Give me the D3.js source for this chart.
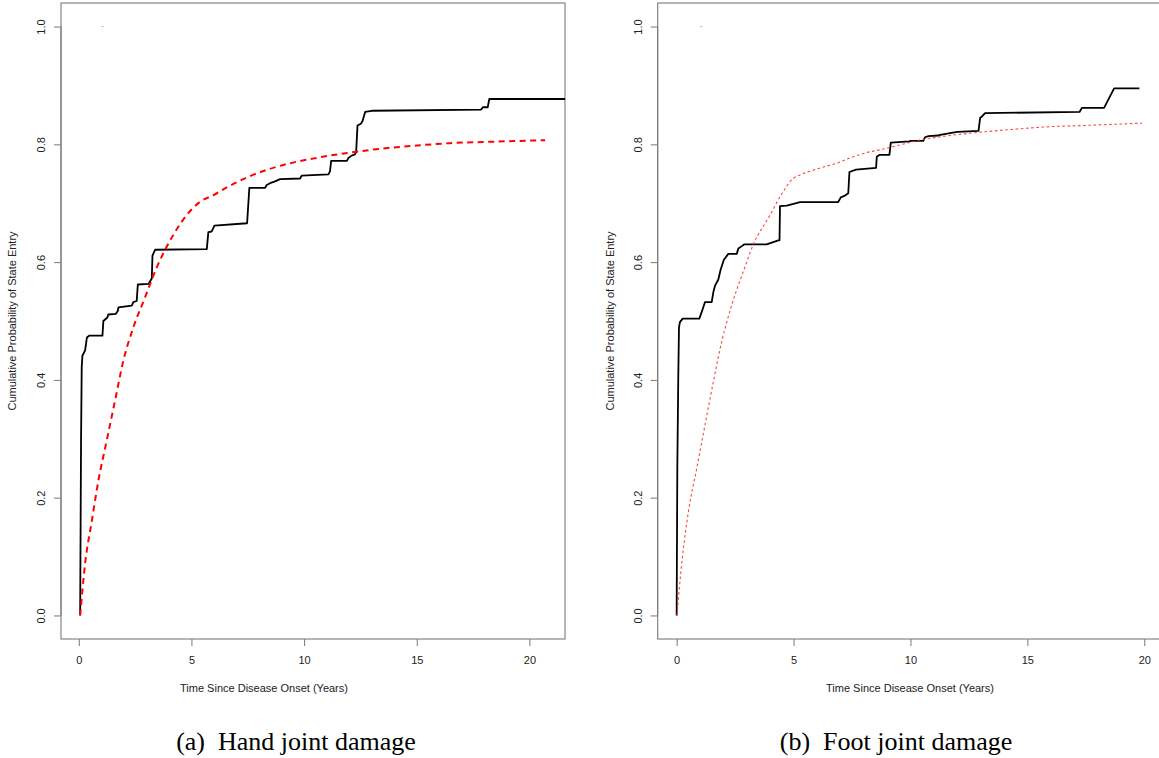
<!DOCTYPE html>
<html>
<head>
<meta charset="utf-8">
<script src="https://cdn.jsdelivr.net/npm/d3@7/dist/d3.min.js"></script>
<style>
  html, body { margin: 0; padding: 0; background: #fff; }
  svg { display: block; }
</style>
</head>
<body>
<svg id="chart" width="1159" height="758"></svg>
<script>
// ---------------- DATA ----------------
const xTickValues = [0, 5, 10, 15, 20];
const xTickLabels = ["0", "5", "10", "15", "20"];
const yTickValues = [0, 0.2, 0.4, 0.6, 0.8, 1.0];
const yTickLabels = ["0.0", "0.2", "0.4", "0.6", "0.8", "1.0"];

const xAxisTitle = "Time Since Disease Onset (Years)";
const yAxisTitle = "Cumulative Probability of State Entry";
const captions = ["(a)  Hand joint damage", "(b)  Foot joint damage"];

// Hand joint damage: empirical (black step) curve [time, probability]
const handObserved = [
  [0.06, 0.000], [0.10, 0.297], [0.13, 0.422], [0.16, 0.441], [0.28, 0.450],
  [0.36, 0.472], [0.46, 0.475], [1.05, 0.475], [1.09, 0.500], [1.27, 0.506],
  [1.31, 0.511], [1.64, 0.512], [1.73, 0.517], [1.76, 0.523], [2.35, 0.526],
  [2.42, 0.532], [2.57, 0.534], [2.62, 0.562], [3.09, 0.563], [3.24, 0.572],
  [3.27, 0.611], [3.39, 0.621], [5.68, 0.622], [5.75, 0.651], [5.90, 0.652],
  [6.02, 0.662], [7.47, 0.666], [7.57, 0.726], [8.27, 0.726], [8.34, 0.731],
  [8.49, 0.734], [8.71, 0.737], [8.93, 0.741], [9.82, 0.742], [9.90, 0.747],
  [11.08, 0.749], [11.15, 0.754], [11.20, 0.772], [11.90, 0.772], [11.97, 0.777],
  [12.12, 0.781], [12.26, 0.783], [12.31, 0.787], [12.37, 0.832], [12.52, 0.835],
  [12.59, 0.839], [12.71, 0.855], [13.00, 0.857], [17.86, 0.859], [17.93, 0.863],
  [18.15, 0.863], [18.22, 0.877], [21.60, 0.877]
];
// Hand joint damage: model (red dashed) curve
const handModel = [
  [0.06, 0.000], [0.28, 0.088], [0.58, 0.161], [0.87, 0.229], [1.24, 0.297],
  [1.61, 0.365], [1.98, 0.433], [2.42, 0.489], [2.94, 0.540], [3.46, 0.591],
  [4.13, 0.642], [5.02, 0.690], [5.40, 0.703], [6.00, 0.714], [6.30, 0.721],
  [7.60, 0.746], [9.08, 0.765], [10.56, 0.777], [12.04, 0.786], [13.52, 0.793],
  [15.00, 0.798], [16.48, 0.802], [17.96, 0.804], [20.70, 0.807]
];

// Foot joint damage: empirical (black step) curve
const footObserved = [
  [0.00, 0.000], [0.03, 0.255], [0.07, 0.405], [0.10, 0.489], [0.14, 0.498],
  [0.26, 0.504], [0.97, 0.504], [1.07, 0.515], [1.21, 0.532], [1.50, 0.532],
  [1.57, 0.549], [1.64, 0.560], [1.78, 0.570], [1.88, 0.587], [2.02, 0.604],
  [2.21, 0.614], [2.57, 0.614], [2.64, 0.623], [2.82, 0.628], [2.88, 0.630],
  [3.85, 0.630], [4.13, 0.634], [4.35, 0.637], [4.40, 0.637], [4.42, 0.695],
  [4.71, 0.696], [5.28, 0.702], [6.91, 0.702], [7.02, 0.710], [7.20, 0.713],
  [7.34, 0.717], [7.39, 0.753], [7.67, 0.757], [8.53, 0.760], [8.56, 0.779],
  [8.67, 0.782], [9.10, 0.782], [9.16, 0.803], [9.95, 0.805], [10.01, 0.806],
  [10.55, 0.806], [10.62, 0.812], [10.77, 0.814], [11.19, 0.815], [11.27, 0.816],
  [11.69, 0.819], [12.01, 0.821], [12.48, 0.822], [12.91, 0.823], [12.98, 0.845],
  [13.05, 0.847], [13.19, 0.853], [17.23, 0.855], [17.33, 0.862], [18.28, 0.862],
  [18.71, 0.895], [19.79, 0.895]
];
// Foot joint damage: model (red dotted) curve
const footModel = [
  [0.01, 0.000], [0.23, 0.093], [0.51, 0.178], [0.87, 0.252], [1.22, 0.325],
  [1.58, 0.399], [1.94, 0.467], [2.37, 0.529], [2.87, 0.586], [3.29, 0.631],
  [3.94, 0.676], [4.50, 0.716], [4.98, 0.742], [5.28, 0.748], [5.99, 0.758],
  [6.99, 0.770], [7.42, 0.777], [8.13, 0.786], [8.84, 0.792], [9.55, 0.799],
  [10.27, 0.806], [11.69, 0.815], [13.10, 0.821], [14.55, 0.826], [15.97, 0.830],
  [17.40, 0.832], [19.90, 0.836]
];

// tiny stray mark near the top of each panel
const strayMark = [[1.0, 1.0], [1.1, 1.0]];

// ---------------- DRAWING ----------------
const svg = d3.select("#chart");
svg.append("rect").attr("width", 1159).attr("height", 758).attr("fill", "#fff");

const sansFont = "'Liberation Sans', Arial, Helvetica, sans-serif";
const serifFont = "'Liberation Serif', 'Times New Roman', Times, serif";
const axisColor = "#7a7a7a";

const panels = [
  { id: "a", box: [61, 3, 565, 639], xDomain: [-0.79, 21.58],
    observed: handObserved, model: handModel,
    modelStyle: { width: 2, dash: "6,4.5", color: "#ff0000", opacity: 1 },
    yTitleX: 12.3, xTitleX: 264, captionX: 296, caption: captions[0] },
  { id: "b", box: [657.7, 3, 1170, 639], xDomain: [-0.81, 21.1],
    observed: footObserved, model: footModel,
    modelStyle: { width: 1.1, dash: "2.6,2.6", color: "#ff2020", opacity: 0.85 },
    yTitleX: 610, xTitleX: 910, captionX: 896, caption: captions[1] }
];

const yDomain = [-0.04, 1.04];

panels.forEach(p => {
  const [x0, y0, x1, y1] = p.box;
  const x = d3.scaleLinear().domain(p.xDomain).range([x0, x1]);
  const y = d3.scaleLinear().domain(yDomain).range([y1, y0]);
  const g = svg.append("g");

  g.append("clipPath").attr("id", "clip-" + p.id)
    .append("rect").attr("x", x0).attr("y", y0).attr("width", x1 - x0).attr("height", y1 - y0);

  // Y axis
  const yAxis = d3.axisLeft(y).tickValues(yTickValues)
    .tickFormat((d, i) => yTickLabels[i]).tickSize(7).tickPadding(3);
  const ya = g.append("g").attr("transform", `translate(${x0},0)`).call(yAxis);
  ya.select(".domain").remove();
  ya.selectAll(".tick line").attr("stroke", axisColor).attr("stroke-width", 1);
  ya.selectAll(".tick text")
    .attr("transform", "rotate(-90)")
    .attr("x", 0).attr("y", -20).attr("dy", null)
    .attr("dominant-baseline", "central")
    .attr("text-anchor", "middle")
    .attr("fill", "#222")
    .style("font-family", sansFont).style("font-size", "11px");
  g.append("line").attr("x1", x0).attr("x2", x0)
    .attr("y1", y(yTickValues[0])).attr("y2", y(yTickValues[yTickValues.length - 1]))
    .attr("stroke", axisColor);

  // X axis
  const xAxis = d3.axisBottom(x).tickValues(xTickValues)
    .tickFormat((d, i) => xTickLabels[i]).tickSize(7).tickPadding(10.5);
  const xa = g.append("g").attr("transform", `translate(0,${y1})`).call(xAxis);
  xa.select(".domain").remove();
  xa.selectAll(".tick line").attr("stroke", axisColor).attr("stroke-width", 1);
  xa.selectAll(".tick text").attr("fill", "#222")
    .style("font-family", sansFont).style("font-size", "11px");

  // Box
  g.append("rect").attr("x", x0).attr("y", y0)
    .attr("width", x1 - x0).attr("height", y1 - y0)
    .attr("fill", "none").attr("stroke", axisColor).attr("stroke-width", 1.1);

  const line = d3.line().x(d => x(d[0])).y(d => y(d[1]));
  const plot = g.append("g").attr("clip-path", `url(#clip-${p.id})`);

  plot.append("path").datum(strayMark).attr("d", line)
    .attr("fill", "none").attr("stroke", "#bbb").attr("stroke-width", 1);

  plot.append("path").datum(p.observed).attr("d", line)
    .attr("fill", "none").attr("stroke", "#000").attr("stroke-width", 1.8)
    .attr("stroke-linejoin", "round");

  plot.append("path").datum(p.model).attr("d", d3.line().curve(d3.curveMonotoneX).x(d => x(d[0])).y(d => y(d[1])))
    .attr("fill", "none").attr("stroke", p.modelStyle.color)
    .attr("stroke-opacity", p.modelStyle.opacity)
    .attr("stroke-width", p.modelStyle.width)
    .attr("stroke-dasharray", p.modelStyle.dash);

  // Titles
  g.append("text").attr("x", p.xTitleX).attr("y", 688)
    .attr("text-anchor", "middle").attr("dominant-baseline", "central")
    .attr("fill", "#222")
    .style("font-family", sansFont).style("font-size", "11px")
    .text(xAxisTitle);

  g.append("text")
    .attr("transform", `translate(${p.yTitleX},${(y0 + y1) / 2}) rotate(-90)`)
    .attr("text-anchor", "middle").attr("dominant-baseline", "central")
    .attr("fill", "#222")
    .style("font-family", sansFont).style("font-size", "11px")
    .text(yAxisTitle);

  // Caption
  svg.append("text").attr("x", p.captionX).attr("y", 750)
    .attr("text-anchor", "middle").attr("fill", "#000")
    .style("font-family", serifFont).style("font-size", "26px")
    .style("white-space", "pre").attr("xml:space", "preserve")
    .text(p.caption);
});
</script>
</body>
</html>
